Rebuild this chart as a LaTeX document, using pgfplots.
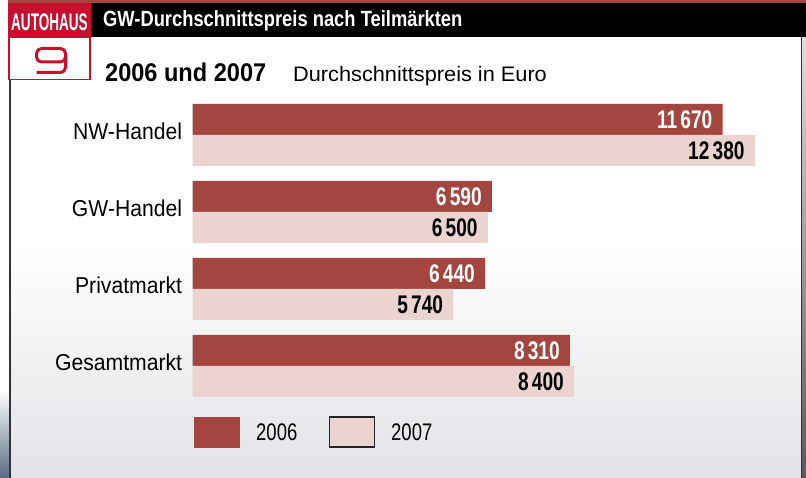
\documentclass[border=0pt]{standalone}
\usepackage{fontspec}
\setmainfont{Liberation Sans}
\usepackage{pgfplots}
\pgfplotsset{compat=1.18}
\usepackage{graphicx}
\definecolor{cA}{HTML}{A5453F}
\definecolor{cB}{HTML}{EBD3D0}
\definecolor{logored}{HTML}{C8102E}
\definecolor{bgG}{HTML}{E1E3E6}
\definecolor{edge}{HTML}{5A6B82}
\newcommand{\sx}[2]{\scalebox{#1}[1]{#2}}
\begin{document}
\begin{tikzpicture}
\begin{scope}[x=1pt,y=-1pt]
\fill[white] (0,0) rectangle (806,478);
\shade[top color=white, bottom color=bgG] (11,240) rectangle (800.5,478);
\shade[top color=white, bottom color=edge] (0,390) rectangle (8.5,478);
\fill[black!80] (8.5,80) rectangle (11,478);
\fill[black!80] (800.5,36.7) rectangle (802.5,478);
\shade[top color=gray!25, bottom color=gray!70!black] (802.5,36.7) rectangle (806,478);
\fill[cA] (8.3,0) rectangle (806,3.5);
\fill[black] (90.7,3.5) rectangle (806,36.7);
\fill[logored] (8.3,3.5) rectangle (90.7,36.7);
\draw[logored, line width=1.5pt, fill=white] (9,37.4) rectangle (90,79.3);
\draw[logored, line width=3pt, rounded corners=5pt] (36.5,48.5) rectangle (65.5,62);
\draw[logored, line width=3pt, rounded corners=5pt] (65.5,55) -- (65.5,72.5) -- (36.5,72.5);
\node[anchor=base west, inner sep=0pt, text=white, font=\fontsize{24}{24}\selectfont\bfseries] at (11,30.5) {\sx{0.565}{AUTOHAUS}};
\node[anchor=base west, inner sep=0pt, text=white, font=\fontsize{22}{22}\selectfont\bfseries] at (103,26.7) {\sx{0.834}{GW-Durchschnittspreis nach Teilmärkten}};
\node[anchor=base west, inner sep=0pt, text=black, font=\fontsize{25.6}{25.6}\selectfont\bfseries] at (105,81.7) {\sx{0.92}{2006 und 2007}};
\node[anchor=base west, inner sep=0pt, text=black, font=\fontsize{21}{21}\selectfont] at (293,81.7) {\sx{1.035}{Durchschnittspreis in Euro}};
% legend
\fill[cA] (194,416.7) rectangle (240,447.7);
\draw[black!85, line width=1.5pt, fill=cB] (329.5,417.2) rectangle (374.5,447.2);
\node[anchor=base west, inner sep=0pt, font=\fontsize{24}{24}\selectfont] at (256,440) {\sx{0.77}{2006}};
\node[anchor=base west, inner sep=0pt, font=\fontsize{24}{24}\selectfont] at (391,440) {\sx{0.77}{2007}};
\end{scope}
\begin{axis}[
  at={(192.7pt,-134.8pt)}, anchor=origin,
  xbar, x=0.04540pt, y=77pt, y dir=reverse,
  xmin=0, xmax=13000, ymin=-0.6, ymax=3.6,
  bar width=31pt,
  axis line style={draw=none},
  major tick length=0pt,
  xtick=\empty,
  ytick={0,1,2,3},
  yticklabels={\sx{0.92}{NW-Handel},\sx{0.92}{GW-Handel},\sx{0.92}{Privatmarkt},\sx{0.92}{Gesamtmarkt}},
  yticklabel style={font=\fontsize{23}{23}\selectfont, anchor=base east, inner sep=0pt, xshift=-10.4pt, yshift=-4.5pt},
  clip=false,
  nodes near coords={\sx{0.75}{\pgfmathprintnumber[1000 sep={\,}, assume math mode=true, fixed, precision=0]{\pgfplotspointmeta}}},
  nodes near coords style={anchor=east, xshift=-10pt, inner sep=0pt, font=\fontsize{25.5}{25.5}\selectfont\bfseries},
]
\addplot[fill=cA, draw=none, bar shift=15.5pt, nodes near coords style={text=white}] coordinates {(11670,0) (6590,1) (6440,2) (8310,3)};
\addplot[fill=cB, draw=none, bar shift=-15.5pt, nodes near coords style={text=black}] coordinates {(12380,0) (6500,1) (5740,2) (8400,3)};
\end{axis}
\end{tikzpicture}
\end{document}
